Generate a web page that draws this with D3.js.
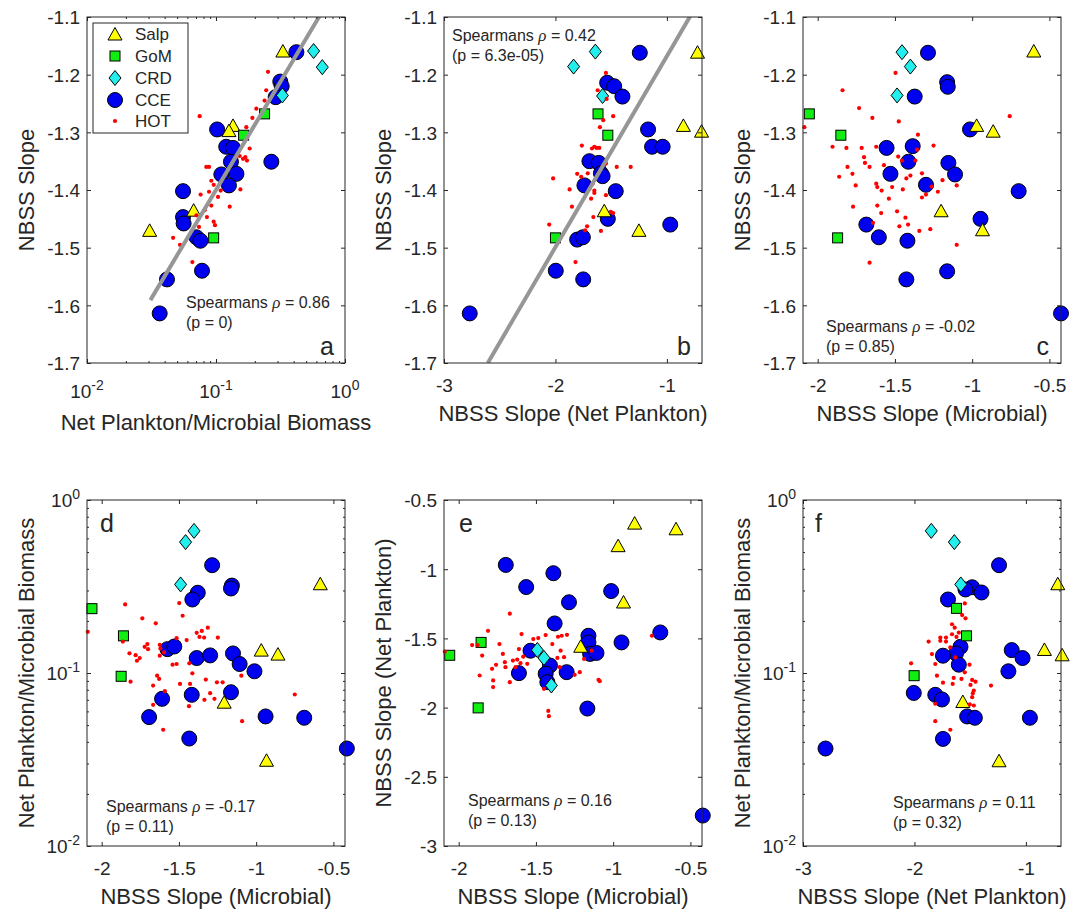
<!DOCTYPE html>
<html>
<head>
<meta charset="utf-8">
<script src="https://cdn.jsdelivr.net/npm/d3@7"></script>
<style>
  body { margin: 0; background: #fff; }
  text { font-family: "Liberation Sans", Arial, sans-serif; fill: #262626; }
</style>
</head>
<body>
<div id="chart"></div>
<script>
// ---- data ----
// panel a: x = net plankton / microbial biomass, y = NBSS slope
var salpA = [[0.330,-1.159],[0.1355,-1.288],[0.126,-1.297],[0.0671,-1.435],[0.0306,-1.470]];
var gomA = [[0.238,-1.268],[0.1637,-1.305],[0.0959,-1.483]];
var crdA = [[0.571,-1.159],[0.667,-1.187],[0.327,-1.236]];
var cceA = [[0.42,-1.161],[0.315,-1.212],[0.323,-1.220],[0.29,-1.239],[0.102,-1.295],[0.120,-1.325],[0.1355,-1.327],[0.1306,-1.351],[0.2685,-1.351],[0.110,-1.373],[0.144,-1.372],[0.126,-1.392],[0.0555,-1.402],[0.0555,-1.447],[0.0561,-1.458],[0.0705,-1.482],[0.0757,-1.488],[0.0779,-1.540],[0.0417,-1.555],[0.0366,-1.614]];
var hotA = [[0.253,-1.195],[0.245,-1.227],[0.238,-1.245],[0.2055,-1.259],[0.1914,-1.275],[0.1718,-1.291],[0.0747,-1.272],[0.1824,-1.328],[0.1526,-1.341],[0.162,-1.346],[0.1687,-1.343],[0.1738,-1.349],[0.1545,-1.399],[0.1277,-1.429],[0.1087,-1.401],[0.092,-1.384],[0.096,-1.391],[0.0883,-1.403],[0.0841,-1.360],[0.0883,-1.360],[0.076,-1.408],[0.092,-1.427],[0.1037,-1.412],[0.0817,-1.435],[0.0851,-1.447],[0.096,-1.455],[0.0982,-1.461],[0.0738,-1.464],[0.0465,-1.483],[0.0526,-1.495],[0.0656,-1.525],[0.0705,-1.444]];
var fitA = [[0.031,-1.591],[0.64,-1.097]];

// panel b: x = NBSS slope (net plankton), y = NBSS slope
var salpB = [[-0.725,-1.161],[-0.852,-1.288],[-0.689,-1.298],[-1.562,-1.436],[-1.251,-1.470]];
var gomB = [[-1.618,-1.268],[-1.530,-1.305],[-2.0,-1.483]];
var crdB = [[-1.642,-1.160],[-1.837,-1.186],[-1.577,-1.237]];
var cceB = [[-1.243,-1.162],[-1.536,-1.214],[-1.473,-1.220],[-1.399,-1.238],[-1.169,-1.295],[-1.133,-1.325],[-1.038,-1.325],[-1.695,-1.350],[-1.612,-1.353],[-1.592,-1.371],[-1.577,-1.376],[-1.740,-1.392],[-1.459,-1.402],[-1.530,-1.450],[-0.970,-1.460],[-1.805,-1.486],[-1.754,-1.482],[-1.997,-1.540],[-1.751,-1.555],[-2.769,-1.614]];
var hotB = [[-1.547,-1.197],[-1.621,-1.227],[-1.541,-1.242],[-1.482,-1.272],[-1.571,-1.279],[-1.601,-1.291],[-1.763,-1.323],[-1.651,-1.325],[-1.630,-1.327],[-1.607,-1.327],[-1.672,-1.328],[-1.325,-1.360],[-1.450,-1.360],[-1.805,-1.372],[-1.710,-1.371],[-1.769,-1.377],[-2.021,-1.380],[-1.666,-1.389],[-1.651,-1.401],[-1.651,-1.405],[-1.680,-1.415],[-1.873,-1.399],[-1.852,-1.429],[-1.547,-1.409],[-1.503,-1.438],[-1.482,-1.440],[-1.660,-1.447],[-1.716,-1.463],[-1.734,-1.470],[-1.592,-1.471],[-2.056,-1.460],[-1.820,-1.525],[-1.547,-1.354],[-1.695,-1.398]];
var fitB = [[-2.607,-1.7],[-0.786,-1.097]];

// panel c: x = NBSS slope (microbial), y = NBSS slope
var salpC = [[-0.601,-1.159],[-0.971,-1.288],[-0.864,-1.298],[-1.201,-1.436],[-0.933,-1.469]];
var gomC = [[-2.054,-1.268],[-1.850,-1.305],[-1.871,-1.483]];
var crdC = [[-1.454,-1.161],[-1.400,-1.186],[-1.486,-1.236]];
var cceC = [[-1.286,-1.162],[-1.162,-1.213],[-1.158,-1.221],[-1.372,-1.238],[-1.014,-1.295],[-1.554,-1.327],[-1.385,-1.324],[-1.413,-1.351],[-1.529,-1.372],[-1.154,-1.353],[-1.111,-1.373],[-1.299,-1.391],[-0.699,-1.402],[-1.685,-1.460],[-1.604,-1.482],[-1.419,-1.488],[-0.946,-1.450],[-1.426,-1.555],[-1.162,-1.541],[-0.425,-1.614]];
var hotC = [[-2.086,-1.291],[-1.839,-1.227],[-1.732,-1.258],[-1.646,-1.275],[-1.496,-1.197],[-1.475,-1.281],[-1.351,-1.304],[-1.904,-1.325],[-1.861,-1.377],[-1.814,-1.327],[-1.775,-1.372],[-1.754,-1.392],[-1.807,-1.360],[-1.715,-1.327],[-1.700,-1.343],[-1.694,-1.353],[-1.664,-1.360],[-1.621,-1.325],[-1.621,-1.389],[-1.614,-1.395],[-1.586,-1.401],[-1.571,-1.357],[-1.539,-1.415],[-1.518,-1.395],[-1.479,-1.342],[-1.454,-1.349],[-1.426,-1.380],[-1.449,-1.399],[-1.400,-1.375],[-1.368,-1.349],[-1.325,-1.371],[-1.357,-1.330],[-1.250,-1.323],[-1.325,-1.413],[-1.299,-1.408],[-1.261,-1.394],[-1.222,-1.403],[-1.192,-1.383],[-1.100,-1.392],[-1.771,-1.429],[-1.614,-1.427],[-1.589,-1.440],[-1.642,-1.457],[-1.486,-1.437],[-1.471,-1.463],[-1.432,-1.448],[-1.415,-1.460],[-1.342,-1.471],[-1.271,-1.468],[-1.100,-1.495],[-1.664,-1.526],[-0.757,-1.272]];

// panel d: x = NBSS slope (microbial), y = net plankton / microbial biomass
var salpD = [[-0.585,0.328],[-0.967,0.1356],[-0.859,0.1286],[-1.207,0.0678],[-0.933,0.0313]];
var gomD = [[-2.063,0.2355],[-1.859,0.164],[-1.874,0.0957]];
var crdD = [[-1.402,0.663],[-1.457,0.571],[-1.489,0.325]];
var cceD = [[-1.285,0.420],[-1.157,0.320],[-1.163,0.308],[-1.378,0.291],[-1.413,0.266],[-1.574,0.1374],[-1.530,0.1423],[-1.385,0.122],[-1.298,0.1264],[-1.150,0.1297],[-1.107,0.1127],[-1.011,0.1023],[-1.163,0.0774],[-1.417,0.0748],[-1.609,0.0709],[-1.693,0.0556],[-0.939,0.0561],[-0.689,0.0551],[-1.433,0.0418],[-0.413,0.0366]];
var hotD = [[-2.09,0.173],[-1.848,0.249],[-1.737,0.207],[-1.650,0.1937],[-1.498,0.2536],[-1.476,0.2143],[-1.515,0.159],[-1.450,0.155],[-1.385,0.1706],[-1.352,0.175],[-1.367,0.1617],[-1.337,0.1603],[-1.313,0.1829],[-1.248,0.1603],[-1.863,0.152],[-1.820,0.130],[-1.780,0.1268],[-1.772,0.1177],[-1.754,0.122],[-1.722,0.1416],[-1.704,0.1469],[-1.700,0.1374],[-1.624,0.1455],[-1.620,0.1387],[-1.624,0.1259],[-1.596,0.1315],[-1.541,0.1117],[-1.515,0.1127],[-1.433,0.1137],[-1.813,0.0891],[-1.641,0.0965],[-1.628,0.0924],[-1.667,0.0846],[-1.591,0.0785],[-1.493,0.0865],[-1.428,0.0865],[-1.413,0.0996],[-1.326,0.0916],[-1.254,0.0883],[-1.217,0.0883],[-1.298,0.0764],[-1.335,0.070],[-1.270,0.0709],[-1.435,0.0643],[-1.667,0.0655],[-1.602,0.047],[-1.091,0.0527],[-0.750,0.0751],[-1.096,0.0965]];

// panel e: x = NBSS slope (microbial), y = NBSS slope (net plankton)
var salpE = [[-0.861,-0.667],[-0.593,-0.708],[-0.968,-0.830],[-0.933,-1.237],[-1.210,-1.557]];
var gomE = [[-2.058,-1.622],[-1.855,-1.529],[-1.874,-2.002]];
var crdE = [[-1.491,-1.584],[-1.448,-1.641],[-1.400,-1.840]];
var cceE = [[-1.695,-0.969],[-1.387,-1.029],[-1.563,-1.129],[-1.286,-1.239],[-1.013,-1.158],[-1.379,-1.392],[-0.695,-1.457],[-0.946,-1.529],[-1.160,-1.481],[-1.160,-1.529],[-1.149,-1.612],[-1.108,-1.605],[-1.535,-1.589],[-1.409,-1.696],[-1.437,-1.756],[-1.426,-1.816],[-1.610,-1.751],[-1.301,-1.744],[-1.167,-2.007],[-0.420,-2.78]];
var hotE = [[-2.09,-1.596],[-1.913,-1.548],[-1.877,-1.548],[-1.864,-1.768],[-1.848,-1.624],[-1.810,-1.445],[-1.784,-1.720],[-1.777,-1.804],[-1.777,-1.852],[-1.758,-1.691],[-1.736,-1.541],[-1.714,-1.612],[-1.701,-1.672],[-1.697,-1.708],[-1.669,-1.816],[-1.669,-1.321],[-1.649,-1.660],[-1.632,-1.708],[-1.621,-1.653],[-1.610,-1.577],[-1.600,-1.679],[-1.593,-1.469],[-1.582,-1.632],[-1.556,-1.684],[-1.517,-1.505],[-1.485,-1.498],[-1.437,-1.476],[-1.394,-1.541],[-1.357,-1.488],[-1.333,-1.481],[-1.299,-1.474],[-1.361,-1.641],[-1.340,-1.589],[-1.318,-1.636],[-1.346,-1.708],[-1.448,-1.864],[-1.420,-2.024],[-1.416,-2.062],[-1.249,-1.763],[-1.216,-1.744],[-1.188,-1.648],[-1.139,-1.589],[-1.095,-1.799],[-1.087,-1.809],[-0.749,-1.481]];

// panel f: x = NBSS slope (net plankton), y = net plankton / microbial biomass
var salpF = [[-0.714,0.328],[-0.834,0.1368],[-0.675,0.1274],[-1.566,0.0684],[-1.241,0.0311]];
var gomF = [[-1.623,0.2364],[-1.533,0.164],[-2.003,0.0965]];
var crdF = [[-1.849,0.663],[-1.642,0.571],[-1.584,0.325]];
var cceF = [[-1.241,0.420],[-1.482,0.313],[-1.542,0.304],[-1.398,0.292],[-1.699,0.266],[-1.587,0.1416],[-1.627,0.1297],[-1.744,0.1259],[-1.602,0.1117],[-1.127,0.1356],[-1.030,0.122],[-1.157,0.1023],[-2.006,0.0767],[-1.813,0.0748],[-1.753,0.0703],[-1.527,0.0561],[-1.458,0.0551],[-0.964,0.0551],[-1.744,0.0416],[-2.798,0.0366]];
var hotF = [[-1.548,0.2524],[-1.572,0.2163],[-1.542,0.207],[-1.663,0.1913],[-1.639,0.1829],[-1.663,0.1675],[-1.623,0.1617],[-1.602,0.1713],[-1.873,0.152],[-1.768,0.1603],[-1.768,0.1534],[-1.717,0.1603],[-1.717,0.152],[-1.678,0.1405],[-1.843,0.1286],[-1.813,0.1127],[-1.506,0.1117],[-1.548,0.1009],[-1.798,0.0965],[-2.030,0.1137],[-1.648,0.0936],[-1.744,0.0879],[-1.657,0.0865],[-1.578,0.0924],[-1.482,0.0912],[-1.452,0.0891],[-1.497,0.0853],[-1.467,0.0792],[-1.476,0.0764],[-1.482,0.0725],[-1.813,0.0664],[-1.503,0.0658],[-1.467,0.0649],[-1.313,0.0846],[-1.813,0.0527],[-1.678,0.047],[-1.633,0.123]];

// ticks, labels, statistics
var slopeTicks = [-1.7, -1.6, -1.5, -1.4, -1.3, -1.2, -1.1];
var netTicks = [-3, -2, -1];
var microTicks = [-2, -1.5, -1, -0.5];
var netYTicks = [-3, -2.5, -2, -1.5, -1, -0.5];
var ratioTicks = [0.01, 0.1, 1];
var groupNames = ["Salp", "GoM", "CRD", "CCE", "HOT"];
var rhoValues = ["0.86", "0.42", "-0.02", "-0.17", "0.16", "0.11"];
var pValues = ["0", "6.3e-05", "0.85", "0.11", "0.13", "0.32"];

// ---- layout ----
var W = 258, H = 346;
var AX = "#262626";
var colours = {Salp: "#ffff00", GoM: "#11ee11", CRD: "#22eeee", CCE: "#0000f0", HOT: "#ff0000"};

var svg = d3.select("#chart").append("svg")
  .attr("width", 1089)
  .attr("height", 913);
svg.append("rect").attr("width", 1089).attr("height", 913).attr("fill", "white");

// marker shapes, centred on the data point
function drawMarker(sel, name) {
  var m;
  if (name === "Salp") {
    m = sel.append("path").attr("d", "M0,-6.5L7,6L-7,6Z");
  } else if (name === "GoM") {
    m = sel.append("rect").attr("x", -5).attr("y", -5).attr("width", 10).attr("height", 10);
  } else if (name === "CRD") {
    m = sel.append("path").attr("d", "M0,-7.5L6,0L0,7.5L-6,0Z");
  } else if (name === "CCE") {
    m = sel.append("circle").attr("r", 7.5);
  } else {
    return sel.append("circle").attr("r", 2.1).attr("fill", colours.HOT);
  }
  return m.attr("fill", colours[name]).attr("stroke", "#000").attr("stroke-width", 1);
}

function makeScale(type, domain, range) {
  return (type === "log" ? d3.scaleLog() : d3.scaleLinear()).domain(domain).range(range);
}

function minorLog(domain) {
  var out = [];
  for (var e = -3; e <= 1; e++) {
    for (var m = 2; m <= 9; m++) {
      var v = m * Math.pow(10, e);
      if (v > domain[0] && v < domain[1]) out.push(v);
    }
  }
  return out;
}

// inward ticks on one side of the box
function tickSide(g, scale, side, values, size) {
  var pos = {bottom: [0, H], top: [0, 0], left: [0, 0], right: [W, 0]}[side];
  var make = {bottom: d3.axisBottom, top: d3.axisTop, left: d3.axisLeft, right: d3.axisRight}[side];
  var ag = g.append("g")
    .attr("transform", "translate(" + pos + ")")
    .call(make(scale).tickValues(values).tickSize(-size).tickFormat(""));
  ag.select(".domain").remove();
  ag.selectAll("line").attr("stroke", AX);
}

function logLabel(sel, v) {
  var exp = Math.round(Math.log10(v));
  sel.append("tspan").text("10");
  sel.append("tspan").attr("dy", -8).attr("font-size", 14).text(String(exp));
}

function drawPanel(p, i) {
  var g = svg.append("g").attr("transform", "translate(" + p.left + "," + p.top + ")");
  var x = makeScale(p.xType, p.xDomain, [0, W]);
  var y = makeScale(p.yType, p.yDomain, [H, 0]);

  g.append("clipPath").attr("id", "clip" + i)
    .append("rect").attr("width", W).attr("height", H);
  g.append("rect").attr("width", W).attr("height", H).attr("fill", "white");

  // CCE underneath, then Salp, GoM, CRD, and the HOT dots on top
  var order = [3, 0, 1, 2, 4];
  var sets = p.groups.concat([p.hot]);
  order.forEach(function(k) {
    var name = groupNames[k];
    g.append("g").selectAll("g")
      .data(sets[k])
      .enter().append("g")
      .attr("transform", function(d) { return "translate(" + x(d[0]) + "," + y(d[1]) + ")"; })
      .each(function() { drawMarker(d3.select(this), name); });
  });

  // regression line
  if (p.fit) {
    g.append("path")
      .attr("clip-path", "url(#clip" + i + ")")
      .attr("d", d3.line().x(function(d) { return x(d[0]); }).y(function(d) { return y(d[1]); })(p.fit))
      .attr("stroke", "#969696")
      .attr("stroke-width", 4)
      .attr("fill", "none");
  }

  // box and ticks
  g.append("rect").attr("width", W).attr("height", H)
    .attr("fill", "none").attr("stroke", AX).attr("stroke-width", 1);
  ["bottom", "top"].forEach(function(s) {
    tickSide(g, x, s, p.xTicks, 4);
    if (p.xType === "log") tickSide(g, x, s, minorLog(p.xDomain), 2);
  });
  ["left", "right"].forEach(function(s) {
    tickSide(g, y, s, p.yTicks, 4);
    if (p.yType === "log") tickSide(g, y, s, minorLog(p.yDomain), 2);
  });

  // tick labels
  if (p.xType === "log") {
    p.xTicks.forEach(function(v) {
      g.append("text")
        .attr("x", x(v)).attr("y", H + 35)
        .attr("text-anchor", "middle").attr("font-size", 19)
        .call(logLabel, v);
    });
  } else {
    var xl = g.append("g").attr("transform", "translate(0," + H + ")")
      .call(d3.axisBottom(x).tickValues(p.xTicks).tickSize(0).tickFormat(function(d) { return String(d); }));
    xl.select(".domain").remove();
    xl.selectAll("text").attr("y", 29).attr("dy", null)
      .attr("font-size", 19).attr("fill", AX)
      .attr("font-family", "Liberation Sans, Arial, sans-serif");
  }
  if (p.yType === "log") {
    p.yTicks.forEach(function(v) {
      g.append("text")
        .attr("x", -7).attr("y", y(v) + 7)
        .attr("text-anchor", "end").attr("font-size", 19)
        .call(logLabel, v);
    });
  } else {
    var yl = g.append("g")
      .call(d3.axisLeft(y).tickValues(p.yTicks).tickSize(0).tickFormat(function(d) { return String(d); }));
    yl.select(".domain").remove();
    yl.selectAll("text").attr("x", -7).attr("dy", "0.36em")
      .attr("font-size", 19).attr("fill", AX)
      .attr("font-family", "Liberation Sans, Arial, sans-serif");
  }

  // axis titles
  g.append("text")
    .attr("x", W / 2).attr("y", H + p.xTitleGap)
    .attr("text-anchor", "middle").attr("font-size", 22)
    .text(p.xTitle);
  g.append("text")
    .attr("transform", "translate(-53," + (H / 2) + ") rotate(-90)")
    .attr("text-anchor", "middle").attr("font-size", 22)
    .text(p.yTitle);

  // statistics
  var st = g.append("text").attr("font-size", 16)
    .attr("x", p.stat[0]).attr("y", p.stat[1]);
  st.append("tspan").text("Spearmans ");
  st.append("tspan").attr("font-style", "italic")
    .attr("font-family", "Liberation Serif, serif").attr("font-size", 17).text("\u03c1");
  st.append("tspan").text(" = " + rhoValues[i]);
  g.append("text").attr("font-size", 16)
    .attr("x", p.stat[0]).attr("y", p.stat[1] + 19.5)
    .text("(p = " + pValues[i] + ")");

  // panel letter
  g.append("text")
    .attr("x", p.tag[0]).attr("y", p.tag[1])
    .attr("text-anchor", p.tag[2])
    .attr("font-size", 25)
    .text(p.letter);

  // legend (panel a only)
  if (p.legend) {
    var lg = g.append("g").attr("transform", "translate(6,6)");
    lg.append("rect").attr("width", 95).attr("height", 110)
      .attr("fill", "white").attr("stroke", AX).attr("stroke-width", 1);
    var rows = [11, 33, 55, 77, 98];
    groupNames.forEach(function(name, k) {
      var row = lg.append("g").attr("transform", "translate(22," + rows[k] + ")");
      drawMarker(row, name);
      row.append("text").attr("x", 20).attr("dy", "0.36em")
        .attr("font-size", 17).text(name);
    });
  }
}

var netDomain = [-3, -0.685];
var microDomain = [-2.095, -0.425];

var panels = [
  {letter: "a", left: 87, top: 17, xType: "log", xDomain: [0.01, 1], yType: "lin", yDomain: [-1.7, -1.1],
   xTicks: ratioTicks, yTicks: slopeTicks, xTitle: "Net Plankton/Microbial Biomass", yTitle: "NBSS Slope",
   xTitleGap: 67, groups: [salpA, gomA, crdA, cceA], hot: hotA, fit: fitA,
   stat: [99, 291], tag: [247, 338, "end"], legend: true},
  {letter: "b", left: 444, top: 17, xType: "lin", xDomain: netDomain, yType: "lin", yDomain: [-1.7, -1.1],
   xTicks: netTicks, yTicks: slopeTicks, xTitle: "NBSS Slope (Net Plankton)", yTitle: "NBSS Slope",
   xTitleGap: 58, groups: [salpB, gomB, crdB, cceB], hot: hotB, fit: fitB,
   stat: [8, 24], tag: [247, 338, "end"]},
  {letter: "c", left: 803, top: 17, xType: "lin", xDomain: microDomain, yType: "lin", yDomain: [-1.7, -1.1],
   xTicks: microTicks, yTicks: slopeTicks, xTitle: "NBSS Slope (Microbial)", yTitle: "NBSS Slope",
   xTitleGap: 58, groups: [salpC, gomC, crdC, cceC], hot: hotC,
   stat: [23, 315], tag: [246, 338, "end"]},
  {letter: "d", left: 87, top: 500, xType: "lin", xDomain: microDomain, yType: "log", yDomain: [0.01, 1],
   xTicks: microTicks, yTicks: ratioTicks, xTitle: "NBSS Slope (Microbial)", yTitle: "Net Plankton/Microbial Biomass",
   xTitleGap: 58, groups: [salpD, gomD, crdD, cceD], hot: hotD,
   stat: [19, 312], tag: [13, 32, "start"]},
  {letter: "e", left: 444, top: 500, xType: "lin", xDomain: microDomain, yType: "lin", yDomain: [-3, -0.5],
   xTicks: microTicks, yTicks: netYTicks, xTitle: "NBSS Slope (Microbial)", yTitle: "NBSS Slope (Net Plankton)",
   xTitleGap: 58, groups: [salpE, gomE, crdE, cceE], hot: hotE,
   stat: [24, 306], tag: [15, 32, "start"]},
  {letter: "f", left: 803, top: 500, xType: "lin", xDomain: netDomain, yType: "log", yDomain: [0.01, 1],
   xTicks: netTicks, yTicks: ratioTicks, xTitle: "NBSS Slope (Net Plankton)", yTitle: "Net Plankton/Microbial Biomass",
   xTitleGap: 58, groups: [salpF, gomF, crdF, cceF], hot: hotF,
   stat: [90, 308], tag: [12, 32, "start"]}
];

panels.forEach(drawPanel);
</script>
</body>
</html>
